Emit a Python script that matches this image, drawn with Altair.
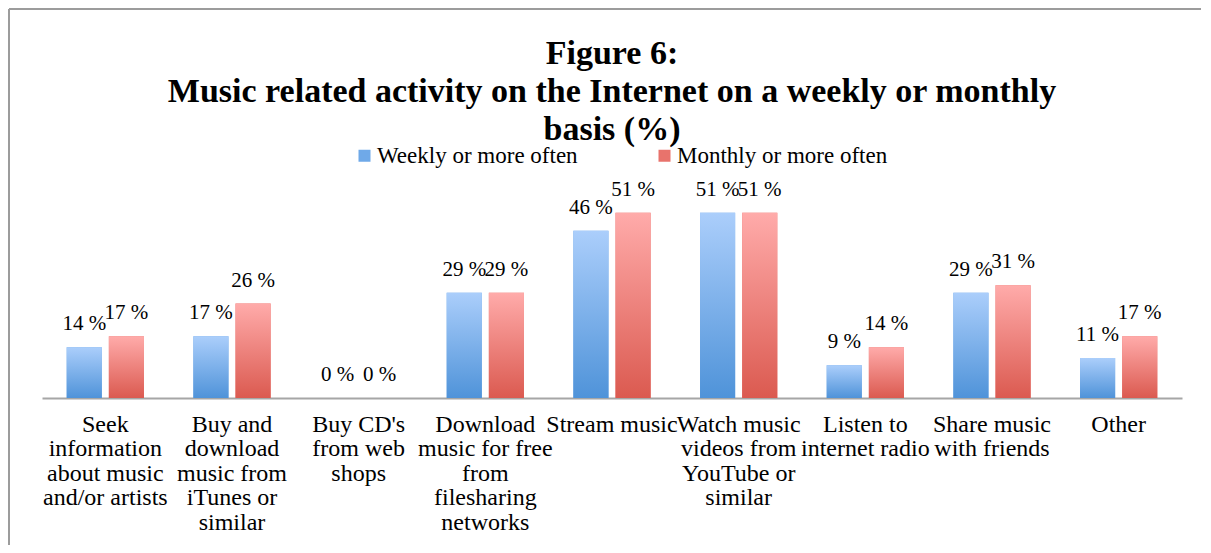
import altair as alt
import pandas as pd

categories = [
    "Seek|information|about music|and/or artists",
    "Buy and|download|music from|iTunes or|similar",
    "Buy CD's|from web|shops",
    "Download|music for free|from|filesharing|networks",
    "Stream music",
    "Watch music|videos from|YouTube or|similar",
    "Listen to|internet radio",
    "Share music|with friends",
    "Other",
]
weekly = [14, 17, 0, 29, 46, 51, 9, 29, 11]
monthly = [17, 26, 0, 29, 51, 51, 14, 31, 17]
series = ["Weekly or more often", "Monthly or more often"]
title_lines = [
    "Figure 6:",
    "Music related activity on the Internet on a weekly or monthly",
    "basis (%)",
]

rows = []
for c, w, m in zip(categories, weekly, monthly):
    rows.append({"category": c, "series": series[0], "value": w, "label": f"{w} %"})
    rows.append({"category": c, "series": series[1], "value": m, "label": f"{m} %"})
df = pd.DataFrame(rows)
single = pd.DataFrame({"one": [0]})

FONT = "Liberation Serif"

blue_grad = {
    "gradient": "linear", "x1": 0, "y1": 0, "x2": 0, "y2": 1,
    "stops": [{"offset": 0, "color": "#abcefb"}, {"offset": 1, "color": "#4f93d9"}],
}
red_grad = {
    "gradient": "linear", "x1": 0, "y1": 0, "x2": 0, "y2": 1,
    "stops": [{"offset": 0, "color": "#ffabaa"}, {"offset": 1, "color": "#db5a50"}],
}

x = alt.X(
    "category:N",
    sort=categories,
    scale=alt.Scale(paddingInner=0.39, paddingOuter=0.195),
    axis=alt.Axis(
        title=None,
        labelExpr="split(datum.value, '|')",
        labelAngle=0,
        ticks=False,
        domainColor="#a6a6a6",
        domainWidth=2,
        labelFont=FONT,
        labelFontSize=24,
        labelLineHeight=24.5,
        labelPadding=14,
        labelColor="black",
        labelOverlap=False,
        labelLimit=300,
    ),
)
xoff = alt.XOffset("series:N", sort=series, scale=alt.Scale(paddingInner=0.167, paddingOuter=0))
y = alt.Y("value:Q", scale=alt.Scale(domain=[0, 60]), axis=None)

base = alt.Chart(df)

legend_bars = base.mark_bar().encode(
    x=x, xOffset=xoff, y=y,
    color=alt.Color(
        "series:N",
        sort=series,
        scale=alt.Scale(domain=series, range=["#6fa9e8", "#e8736c"]),
        legend=alt.Legend(
            title=None,
            orient="none",
            legendX=311,
            legendY=-36,
            direction="horizontal",
            symbolType="square",
            symbolSize=144,
            symbolStrokeWidth=0,
            labelFont=FONT,
            labelFontSize=23,
            labelColor="black",
            labelLimit=400,
            labelOffset=1,
            columnPadding=75,
        ),
    ),
)

blue_bars = base.transform_filter(alt.datum.series == series[0]).mark_bar().encode(
    x=x, xOffset=xoff, y=y, fill=alt.value(blue_grad)
)
red_bars = base.transform_filter(alt.datum.series == series[1]).mark_bar().encode(
    x=x, xOffset=xoff, y=y, fill=alt.value(red_grad)
)

labels = base.mark_text(
    font=FONT, fontSize=21, color="black", baseline="middle", dy=-23
).encode(x=x, xOffset=xoff, y=y, text="label:N")

title = alt.Chart(single).mark_text(
    font=FONT, fontSize=34, fontWeight="bold", color="black",
    align="center", baseline="top", lineHeight=38,
).encode(x=alt.value(570), y=alt.value(-143), text=alt.value(title_lines))

frame_top = alt.Chart(single).mark_rule(color="#9c9c9c", strokeWidth=2).encode(
    x=alt.value(-33), x2=alt.value(1159), y=alt.value(-171)
)
frame_left = alt.Chart(single).mark_rule(color="#9c9c9c", strokeWidth=2).encode(
    x=alt.value(-33), y=alt.value(-171), y2=alt.value(365)
)

chart = (
    alt.layer(frame_top, frame_left, legend_bars, blue_bars, red_bars, labels, title)
    .properties(width=1140, height=218, padding=0, background="white")
    .configure_view(stroke=None)
)

chart.save("out.html", embed_options={"renderer": "svg", "actions": False})
